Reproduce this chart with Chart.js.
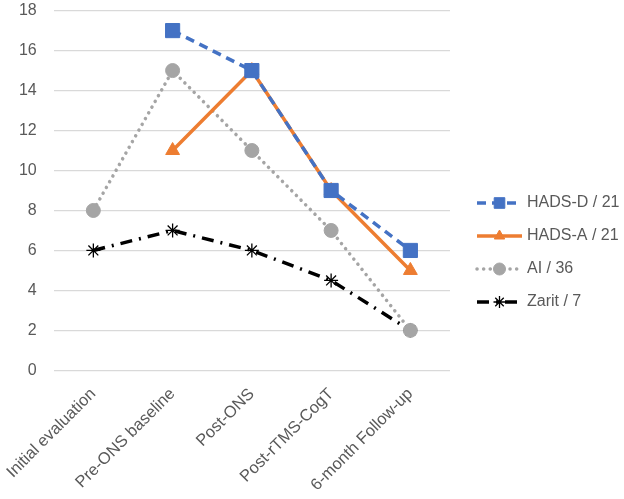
<!DOCTYPE html>
<html>
<head>
    <title>Scores over time</title>
    <script src="https://cdn.jsdelivr.net/npm/chart.js"></script>
    <style>
        body { margin: 0; background: #fff; }
        #wrap { width: 624px; height: 499px; }
    </style>
</head>
<body>
    <div id="wrap"><canvas id="chart"></canvas></div>

    <script>
        // Time points
        const labels = ['Initial evaluation', 'Pre-ONS baseline', 'Post-ONS', 'Post-rTMS-CogT', '6-month Follow-up'];

        // Scores per scale (null = not measured)
        const hadsD = [null, 17, 15, 9, 6];
        const hadsA = [null, 11, 15, 9, 5];
        const ai = [8, 15, 11, 7, 2];
        const zarit = [6, 7, 6, 4.5, 2];

        const yTicks = { min: 0, max: 18, step: 2 };

        const FONT = "'Liberation Sans', Arial, sans-serif";
        const TEXT = '#595959';

        const datasets = [
            {
                label: 'HADS-D / 21', data: hadsD,
                borderColor: '#4472C4', backgroundColor: '#4472C4',
                borderWidth: 3.5, borderDash: [9, 6],
                pointStyle: 'rect', pointRadius: 10, pointBorderWidth: 1,
                legendRadius: 7.5
            },
            {
                label: 'HADS-A / 21', data: hadsA,
                borderColor: '#ED7D31', backgroundColor: '#ED7D31',
                borderWidth: 3.5,
                pointStyle: 'triangle', pointRadius: 8, pointBorderWidth: 1,
                legendRadius: 6
            },
            {
                label: 'AI / 36', data: ai,
                borderColor: '#A5A5A5', backgroundColor: '#A5A5A5',
                borderWidth: 3.5, borderDash: [0.1, 6.5], borderCapStyle: 'round',
                pointStyle: 'circle', pointRadius: 7, pointBorderWidth: 1,
                legendRadius: 6
            },
            {
                label: 'Zarit / 7', data: zarit,
                borderColor: '#000000', backgroundColor: '#000000',
                borderWidth: 3.5, borderDash: [12, 7, 2, 7],
                pointStyle: 'star', pointRadius: 7, pointBorderWidth: 1.3,
                legendRadius: 6
            }
        ];

        // Legend drawn as a line sample with the marker in the middle, like Excel
        const sideLegend = {
            id: 'sideLegend',
            afterDraw(chart) {
                const ctx = chart.ctx;
                const x0 = 477, x1 = 522, y0 = 203, gap = 33;
                chart.data.datasets.forEach((ds, i) => {
                    const y = y0 + i * gap;
                    ctx.save();
                    ctx.strokeStyle = ds.borderColor;
                    ctx.lineWidth = ds.borderWidth;
                    ctx.lineCap = ds.borderCapStyle || 'butt';
                    ctx.setLineDash(ds.borderDash || []);
                    ctx.beginPath();
                    ctx.moveTo(x0, y);
                    ctx.lineTo(x1, y);
                    ctx.stroke();
                    ctx.restore();
                    ctx.save();
                    ctx.fillStyle = ds.backgroundColor;
                    ctx.strokeStyle = ds.borderColor;
                    ctx.lineWidth = ds.pointBorderWidth;
                    Chart.helpers.drawPoint(ctx, {
                        pointStyle: ds.pointStyle,
                        radius: ds.legendRadius,
                        rotation: 0,
                        borderWidth: ds.pointBorderWidth
                    }, (x0 + x1) / 2, y);
                    ctx.restore();
                    ctx.save();
                    ctx.fillStyle = TEXT;
                    ctx.font = '16px ' + FONT;
                    ctx.textBaseline = 'middle';
                    ctx.fillText(ds.label, 527, y);
                    ctx.restore();
                });
            }
        };

        new Chart(document.getElementById('chart'), {
            type: 'line',
            data: { labels: labels, datasets: datasets },
            plugins: [sideLegend],
            options: {
                responsive: true,
                maintainAspectRatio: false,
                animation: false,
                spanGaps: false,
                layout: { autoPadding: false, padding: { top: 0, right: 174, left: 1, bottom: -2 } },
                plugins: {
                    legend: { display: false },
                    tooltip: { enabled: false }
                },
                scales: {
                    x: {
                        offset: true,
                        grid: { display: false },
                        border: { display: false },
                        ticks: {
                            color: TEXT,
                            font: { family: FONT, size: 16.5 },
                            minRotation: 45, maxRotation: 45,
                            padding: 6,
                            autoSkip: false
                        }
                    },
                    y: {
                        min: yTicks.min, max: yTicks.max,
                        // invisible tick marks give the gap between the labels and the plot
                        grid: { color: '#D9D9D9', lineWidth: 1.3, drawTicks: true, tickLength: 16, tickColor: 'rgba(0,0,0,0)' },
                        border: { display: false },
                        ticks: {
                            stepSize: yTicks.step,
                            color: TEXT,
                            padding: 1,
                            font: { family: FONT, size: 16 }
                        }
                    }
                }
            }
        });
    </script>
</body>
</html>
